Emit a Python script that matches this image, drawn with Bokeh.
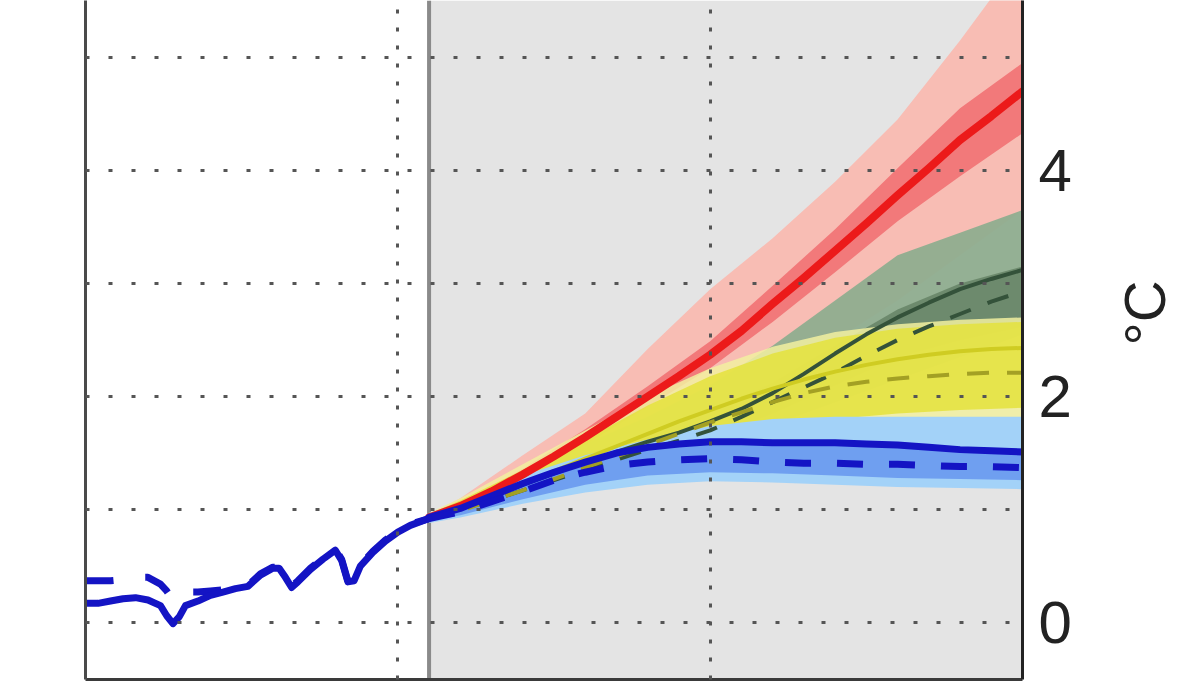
from math import pi
from bokeh.plotting import figure
from bokeh.layouts import row
from bokeh.models import (Range1d, FixedTicker, LinearAxis, BoxAnnotation, Span, Label)
from bokeh.embed import file_html
from bokeh.resources import INLINE

# ---------------- data ----------------
hist_years = [1950, 1952, 1954, 1956, 1958, 1960, 1962, 1963, 1964, 1965, 1966, 1968,
              1970, 1972, 1974, 1976, 1978, 1980, 1981, 1982, 1983, 1984, 1986, 1988,
              1990, 1991, 1992, 1993, 1994, 1996, 1998, 2000, 2002, 2005]
hist_solid = [0.17, 0.17, 0.19, 0.21, 0.22, 0.20, 0.15, 0.06, -0.01, 0.05, 0.15, 0.19,
              0.24, 0.27, 0.30, 0.32, 0.42, 0.48, 0.48, 0.40, 0.31, 0.36, 0.47, 0.56,
              0.64, 0.55, 0.36, 0.37, 0.50, 0.62, 0.72, 0.80, 0.86, 0.92]
hist_dashed = [0.37, 0.37, 0.37, 0.38, 0.40, 0.40, 0.34, 0.28, 0.20, 0.22, 0.27, 0.27,
               0.28, 0.29, 0.31, 0.33, 0.43, 0.49, 0.49, 0.41, 0.32, 0.37, 0.48, 0.57,
               0.65, 0.56, 0.37, 0.38, 0.51, 0.63, 0.73, 0.81, 0.87, 0.92]

proj_years = [2005, 2010, 2015, 2020, 2025, 2030, 2035, 2040, 2045, 2050,
              2055, 2060, 2065, 2070, 2075, 2080, 2085, 2090, 2095, 2100]
red_solid = [0.93, 1.03, 1.16, 1.31, 1.47, 1.64, 1.82, 2.00, 2.18, 2.37,
             2.58, 2.82, 3.05, 3.29, 3.53, 3.78, 4.02, 4.27, 4.48, 4.70]
green_solid = [0.93, 1.02, 1.12, 1.22, 1.32, 1.42, 1.51, 1.60, 1.68, 1.78,
               1.89, 2.03, 2.20, 2.38, 2.55, 2.70, 2.83, 2.95, 3.04, 3.12]
green_dashed = [0.92, 1.00, 1.08, 1.17, 1.26, 1.35, 1.44, 1.53, 1.61, 1.70,
                1.82, 1.95, 2.08, 2.21, 2.36, 2.50, 2.62, 2.73, 2.84, 2.93]
yellow_solid = [0.93, 1.02, 1.12, 1.23, 1.34, 1.45, 1.56, 1.67, 1.78, 1.88,
                1.98, 2.07, 2.15, 2.22, 2.28, 2.33, 2.37, 2.40, 2.42, 2.43]
yellow_dashed = [0.92, 0.99, 1.08, 1.17, 1.27, 1.37, 1.47, 1.57, 1.67, 1.77,
                 1.86, 1.95, 2.03, 2.09, 2.13, 2.16, 2.18, 2.20, 2.21, 2.21]
blue_solid = [0.93, 1.01, 1.12, 1.23, 1.33, 1.42, 1.50, 1.55, 1.58, 1.60,
              1.60, 1.59, 1.59, 1.59, 1.58, 1.57, 1.55, 1.53, 1.52, 1.51]
blue_dashed = [0.92, 0.98, 1.07, 1.16, 1.26, 1.33, 1.39, 1.42, 1.44, 1.45,
               1.44, 1.42, 1.41, 1.41, 1.40, 1.40, 1.39, 1.38, 1.38, 1.37]

band_years = [2005, 2010, 2020, 2030, 2040, 2050, 2060, 2070, 2080, 2090, 2100]
red_light_lo = [0.90, 0.96, 1.12, 1.32, 1.55, 1.82, 2.15, 2.50, 2.85, 3.25, 3.65]
red_light_hi = [0.96, 1.10, 1.48, 1.85, 2.42, 2.95, 3.40, 3.90, 4.45, 5.15, 5.90]
red_dark_lo = [0.92, 1.01, 1.26, 1.57, 1.91, 2.25, 2.66, 3.10, 3.55, 3.95, 4.33]
red_dark_hi = [0.94, 1.06, 1.36, 1.71, 2.09, 2.49, 2.98, 3.48, 4.02, 4.55, 4.95]
green_light_lo = [0.90, 0.96, 1.10, 1.26, 1.42, 1.58, 1.75, 1.95, 2.15, 2.35, 2.55]
green_light_hi = [0.96, 1.07, 1.32, 1.58, 1.82, 2.10, 2.45, 2.85, 3.25, 3.45, 3.65]
green_dark_lo = [0.91, 0.98, 1.14, 1.31, 1.48, 1.64, 1.85, 2.10, 2.35, 2.50, 2.62]
green_dark_hi = [0.95, 1.05, 1.27, 1.48, 1.68, 1.86, 2.12, 2.45, 2.77, 3.00, 3.15]
yellow_pale_lo = [0.89, 0.94, 1.07, 1.24, 1.40, 1.53, 1.62, 1.70, 1.75, 1.78, 1.80]
yellow_pale_hi = [0.97, 1.10, 1.40, 1.70, 2.00, 2.25, 2.44, 2.57, 2.64, 2.68, 2.70]
yellow_lo = [0.90, 0.97, 1.12, 1.30, 1.48, 1.62, 1.72, 1.80, 1.85, 1.88, 1.90]
yellow_hi = [0.96, 1.08, 1.35, 1.62, 1.92, 2.18, 2.38, 2.52, 2.60, 2.64, 2.66]
blue_light_lo = [0.88, 0.93, 1.05, 1.15, 1.22, 1.25, 1.24, 1.22, 1.20, 1.19, 1.18]
blue_light_hi = [0.97, 1.06, 1.30, 1.48, 1.62, 1.74, 1.80, 1.82, 1.82, 1.82, 1.82]
blue_mid_lo = [0.90, 0.95, 1.09, 1.22, 1.30, 1.33, 1.32, 1.30, 1.28, 1.27, 1.26]
blue_mid_hi = [0.94, 1.02, 1.22, 1.42, 1.54, 1.58, 1.58, 1.57, 1.56, 1.55, 1.54]

y_ticks = [0, 2, 4]
grid_y = [0, 1, 2, 3, 4, 5]
grid_x = [2000, 2050]
split_year = 2005
unit_label = "°C"

# ---------------- main figure ----------------
yr = Range1d(-0.504, 5.504)
p = figure(width=1090, height=682, x_range=Range1d(1950, 2100), y_range=yr,
           y_axis_location="right", output_backend="svg", toolbar_location=None,
           min_border_left=85, min_border_right=68, min_border_top=0, min_border_bottom=3)
p.outline_line_color = None
p.background_fill_color = "white"
p.border_fill_color = "white"

# projection background
p.add_layout(BoxAnnotation(left=split_year, fill_color="#e4e4e4", fill_alpha=1.0,
                           line_color=None, level="image"))
p.add_layout(Span(location=split_year, dimension="height", line_color="#8a8a8a",
                  line_width=4, level="underlay"))

# bands
def band(lo, hi, color, alpha=1.0):
    p.varea(x=band_years, y1=lo, y2=hi, fill_color=color, fill_alpha=alpha)

band(red_light_lo, red_light_hi, "#f8bdb4")
band(red_dark_lo, red_dark_hi, "#f2797a")
band(green_light_lo, green_light_hi, "#8fad8f", 0.95)
band(green_dark_lo, green_dark_hi, "#6a886a", 0.95)
band(yellow_pale_lo, yellow_pale_hi, "#f2f0a0", 0.85)
band(yellow_lo, yellow_hi, "#e4e23c", 0.85)
band(blue_light_lo, blue_light_hi, "#a3d2f8")
band(blue_mid_lo, blue_mid_hi, "#6f9ff0")

# lines
p.line(proj_years, red_solid, line_color="#ec1a1a", line_width=8, line_cap="round", line_join="round")
p.line(proj_years, green_solid, line_color="#34523a", line_width=4, line_join="round")
p.line(proj_years, green_dashed, line_color="#34523a", line_width=4, line_dash="22 18")
p.line(proj_years, yellow_solid, line_color="#cfcc22", line_width=4, line_join="round")
p.line(proj_years, yellow_dashed, line_color="#a3a024", line_width=4, line_dash="22 18")
p.line(proj_years, blue_solid, line_color="#1414c4", line_width=7, line_cap="round", line_join="round")
p.line(proj_years, blue_dashed, line_color="#1414c4", line_width=7, line_dash="26 26")
p.line(hist_years, hist_dashed, line_color="#1414c4", line_width=7, line_dash="28 32")
p.line(hist_years, hist_solid, line_color="#1414c4", line_width=7, line_cap="round", line_join="round")

# grids (on top, dotted)
p.xgrid.ticker = FixedTicker(ticks=grid_x)
p.ygrid.ticker = FixedTicker(ticks=grid_y)
for g, dash in ((p.xgrid, "4 14"), (p.ygrid, "4 19")):
    g.grid_line_color = "#555555"
    g.grid_line_width = 3
    g.grid_line_dash = dash
    g.level = "annotation"

# right axis (tick labels)
ax = p.yaxis[0]
ax.ticker = FixedTicker(ticks=y_ticks)
ax.major_label_text_font = "Liberation Sans"
ax.major_label_text_font_size = "60px"
ax.major_label_text_color = "#222222"
ax.major_label_standoff = 16
ax.major_tick_out = 0
ax.major_tick_in = 0
ax.minor_tick_line_color = None
ax.axis_line_color = "#222222"
ax.axis_line_width = 3

# bottom axis: only the frame line
bx = p.xaxis[0]
bx.ticker = FixedTicker(ticks=[])
bx.major_label_text_font_size = "0px"
bx.major_label_standoff = 0
bx.major_tick_out = 0
bx.major_tick_in = 0
bx.minor_tick_line_color = None
bx.axis_line_color = "#3a3a3a"
bx.axis_line_width = 3

# left axis: only the frame line
lx = LinearAxis(ticker=FixedTicker(ticks=[]), major_label_text_font_size="0px",
                major_label_standoff=0, major_tick_out=0, major_tick_in=0,
                minor_tick_line_color=None, axis_line_color="#4a4a4a", axis_line_width=3)
p.add_layout(lx, "left")

# ---------------- side strip for the unit label ----------------
q = figure(width=90, height=682, x_range=Range1d(0, 90), y_range=yr,
           output_backend="svg", toolbar_location=None,
           min_border_left=0, min_border_right=0, min_border_top=0, min_border_bottom=3)
q.axis.visible = False
q.grid.visible = False
q.outline_line_color = None
q.background_fill_color = "white"
q.border_fill_color = "white"
q.add_layout(Label(x=54, y=2.74, text=unit_label, angle=pi / 2,
                   text_font="Liberation Sans", text_font_size="58px", text_color="#222222",
                   text_align="center", text_baseline="middle"))

open("out.html", "w").write(file_html(row(p, q), INLINE))
